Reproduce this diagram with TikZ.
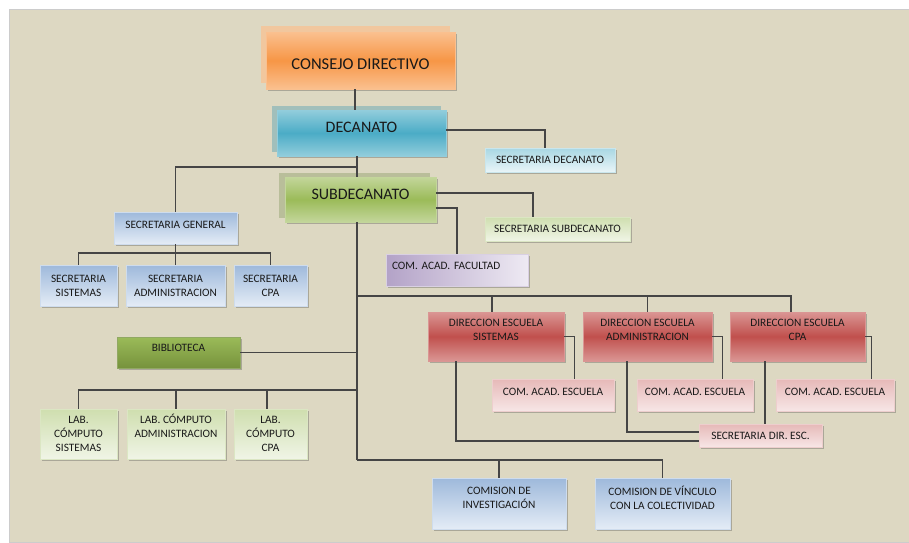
\documentclass[tikz,border=0pt]{standalone}
\usepackage{fontspec}
\setmainfont{Carlito}
\usetikzlibrary{shadows}

\definecolor{bgbeige}{HTML}{DDD8C2}
\definecolor{orgdark}{HTML}{F79646}
\definecolor{orglight}{HTML}{FAC08F}
\definecolor{cyandark}{HTML}{4BACC6}
\definecolor{cyanlight}{HTML}{92CDDC}
\definecolor{grndark}{HTML}{9BBB59}
\definecolor{grnlight}{HTML}{C3D69B}
\definecolor{olvdark}{HTML}{76923C}
\definecolor{olvlight}{HTML}{9BBB59}
\definecolor{reddark}{HTML}{C0504D}
\definecolor{redlight}{HTML}{DA9694}
\definecolor{pinkdark}{HTML}{E6B9B8}
\definecolor{pinklight}{HTML}{F7E6E6}
\definecolor{bluedark}{HTML}{9EB9DB}
\definecolor{bluelight}{HTML}{E4ECF6}
\definecolor{lavdark}{HTML}{B3A2C7}
\definecolor{lavlight}{HTML}{EEEAF3}
\definecolor{lined}{HTML}{454545}

\frenchspacing
\begin{document}
\begin{tikzpicture}[
  x=1pt, y=-1pt,
  box/.style={draw, line width=.6pt, inner sep=1pt, align=center, text=black!90,
    font=\fontsize{11.3}{14}\selectfont,
    drop shadow={shadow xshift=1.5pt, shadow yshift=-1.5pt, opacity=.35, fill=black!70}},
  big/.style={box, font=\fontsize{16}{18}\selectfont, line width=.8pt},
  consejo/.style={big, top color=orglight, bottom color=orglight, middle color=orgdark, draw=orglight,
    copy shadow={shadow xshift=-5pt, shadow yshift=6pt, fill=orglight, draw=none, opacity=.7}},
  decan/.style={big, top color=cyanlight, bottom color=cyanlight, middle color=cyandark, draw=cyanlight,
    copy shadow={shadow xshift=-5pt, shadow yshift=4pt, fill=cyandark!75!gray, draw=none, opacity=.45}},
  subdec/.style={big, top color=grnlight, bottom color=grnlight, middle color=grndark, draw=grnlight,
    copy shadow={shadow xshift=-6pt, shadow yshift=4pt, fill=grndark!55!gray, draw=none, opacity=.45}},
  cyanbox/.style={box, top color=cyanlight!80, bottom color=cyanlight!20, draw=cyanlight!50},
  grnbox/.style={box, top color=grnlight!80, bottom color=grnlight!25, draw=grnlight!60},
  bluebox/.style={box, top color=bluedark, bottom color=bluelight, draw=bluedark!50},
  lavbox/.style={box, shading angle=135, left color=lavdark, right color=lavlight, draw=lavdark!50},
  olvbox/.style={box, top color=olvlight, bottom color=olvdark, draw=olvdark!80},
  redbox/.style={box, top color=redlight, bottom color=redlight, middle color=reddark, draw=redlight},
  pinkbox/.style={box, top color=pinkdark, bottom color=pinklight, draw=pinkdark!70},
  conn/.style={draw=lined, line width=1.1pt},
]
\useasboundingbox (0,0) rectangle (909,542);
\fill[white] (0,0) rectangle (909,542);
\filldraw[fill=bgbeige, draw=gray!40] (9,9) rectangle (909,542);

% ---------------- direction ----------------
\node[consejo, minimum width=189pt, minimum height=57pt, font=\fontsize{16.5}{18}\selectfont, text height=19pt] (cd) at (360.5,60.5) {CONSEJO DIRECTIVO};
\node[decan, minimum width=169pt, minimum height=46pt, text depth=12pt] (dec) at (361.5,133) {DECANATO};
\node[cyanbox, minimum width=130pt, minimum height=24pt] (secdec) at (550,160) {SECRETARIA DECANATO};
\node[subdec, minimum width=151pt, minimum height=45pt, text depth=10pt] (sub) at (360.5,199.5) {SUBDECANATO};
\node[grnbox, minimum width=145pt, minimum height=24pt] (secsub) at (557.5,229) {SECRETARIA SUBDECANATO};
\node[lavbox, minimum width=142pt, minimum height=32pt, text width=130pt, align=left, text depth=8pt] (caf) at (457,270) {COM.~ACAD.~FACULTAD};

% ---------------- secretarias ----------------
\node[bluebox, minimum width=123pt, minimum height=32pt, text depth=7pt] (secgen) at (175.5,228) {SECRETARIA GENERAL};
\node[bluebox, minimum width=77pt, minimum height=41pt] (secsis) at (78.5,285.5) {SECRETARIA\\SISTEMAS};
\node[bluebox, minimum width=99pt, minimum height=41pt] (secadm) at (175.5,285.5) {SECRETARIA\\ADMINISTRACION};
\node[bluebox, minimum width=73pt, minimum height=41pt] (seccpa) at (270.5,285.5) {SECRETARIA\\CPA};

% ---------------- biblioteca y laboratorios ----------------
\node[olvbox, minimum width=123pt, minimum height=31pt, text depth=10pt] (bib) at (178.5,352.5) {BIBLIOTECA};
\node[grnbox, minimum width=77pt, minimum height=50pt] (labsis) at (78.5,434) {LAB.\\CÓMPUTO\\SISTEMAS};
\node[grnbox, minimum width=98pt, minimum height=50pt, text depth=16pt] (labadm) at (176,434) {LAB. CÓMPUTO\\ADMINISTRACION};
\node[grnbox, minimum width=73pt, minimum height=50pt] (labcpa) at (270.5,434) {LAB.\\CÓMPUTO\\CPA};

% ---------------- escuelas ----------------
\node[redbox, minimum width=136pt, minimum height=49pt, text depth=14pt] (dirsis) at (496,336.5) {DIRECCION ESCUELA\\SISTEMAS};
\node[redbox, minimum width=129pt, minimum height=49pt, text depth=14pt] (diradm) at (647.5,336.5) {DIRECCION ESCUELA\\ADMINISTRACION};
\node[redbox, minimum width=135pt, minimum height=49pt, text depth=14pt] (dircpa) at (797.5,336.5) {DIRECCION ESCUELA\\CPA};
\node[pinkbox, minimum width=122pt, minimum height=32pt, text depth=6pt] (casis) at (553,395) {COM. ACAD. ESCUELA};
\node[pinkbox, minimum width=116pt, minimum height=32pt, text depth=6pt] (caadm) at (695,395) {COM. ACAD. ESCUELA};
\node[pinkbox, minimum width=118pt, minimum height=32pt, text depth=6pt] (cacpa) at (835,395) {COM. ACAD. ESCUELA};
\node[pinkbox, minimum width=123pt, minimum height=23pt] (secdir) at (760.5,435.5) {SECRETARIA DIR. ESC.};

% ---------------- comisiones ----------------
\node[bluebox, minimum width=134pt, minimum height=51pt, text depth=11pt] (cominv) at (499,503.5) {COMISION DE\\INVESTIGACIÓN};
\node[bluebox, minimum width=135pt, minimum height=51pt, text depth=11pt] (comvin) at (662.5,503.5) {COMISION DE VÍNCULO\\CON LA COLECTIVIDAD};

% ---------------- connectors ----------------
\coordinate (j1) at (357,167);
\coordinate (j2) at (357,296);
\coordinate (j3) at (357,390);
\coordinate (j4) at (357,460);
\coordinate (j5) at (176,253);
\draw[conn] (cd.south -| 355,0) -- (dec.north -| 355,0);
\draw[conn] ([yshift=3pt]dec.east) -| ([xshift=-5pt]secdec.north);
\draw[conn] (dec.south -| j1) -- (sub.north -| j1);
\draw[conn] (j1) -| (secgen.north);
\draw[conn] ([yshift=6.5pt]sub.east) -| ([xshift=-24.5pt]secsub.north);
\draw[conn] ([yshift=-8.5pt]sub.east) -| (caf.north);
\draw[conn] (sub.south -| j1) -- (j4);
\draw[conn] (j2) -| ([xshift=-6.5pt]dircpa.north);
\draw[conn] ([xshift=-4pt]dirsis.north) -- ([xshift=-4pt]dirsis.north |- j2);
\draw[conn] (diradm.north) -- (diradm.north |- j2);
\draw[conn] (bib.east) -- (bib.east -| j3);
\draw[conn] (j3) -| (labsis.north);
\draw[conn] (labadm.north) -- (labadm.north |- j3);
\draw[conn] ([xshift=-3.5pt]labcpa.north) -- ([xshift=-3.5pt]labcpa.north |- j3);
\draw[conn] (secgen.south) -- (secadm.north);
\draw[conn] (secsis.north) |- (j5) -| (seccpa.north);
\draw[conn] (j4) -| (comvin.north);
\draw[conn] (cominv.north) -- (cominv.north |- j4);
\draw[conn] (dirsis.east) -- ++(10,0) coordinate (k1) -- (k1 |- casis.north);
\draw[conn] (diradm.east) -- ++(10,0) coordinate (k2) -- (k2 |- caadm.north);
\draw[conn] (dircpa.east) -- ++(6,0) coordinate (k3) -- (k3 |- cacpa.north);
\draw[conn] ([xshift=-40pt]dirsis.south) |- ([yshift=-5.5pt]secdir.west);
\draw[conn] ([xshift=-20.5pt]diradm.south) |- ([yshift=3.5pt]secdir.west);
\draw[conn] ([xshift=-32.5pt]dircpa.south) -- ([xshift=-32.5pt]dircpa.south |- secdir.north);
\end{tikzpicture}
\end{document}
